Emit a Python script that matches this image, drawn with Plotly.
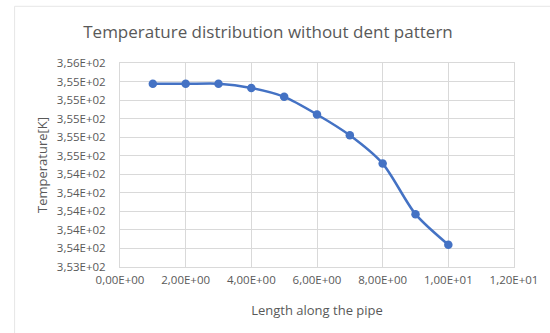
import plotly.graph_objects as go

# Data
length = [1, 2, 3, 4, 5, 6, 7, 8, 9, 10]
temperature = [355.375, 355.375, 355.377, 355.33, 355.235, 355.045, 354.82, 354.515, 353.97, 353.64]

x_tickvals = [0, 2, 4, 6, 8, 10, 12]
x_ticktext = ["0,00E+00", "2,00E+00", "4,00E+00", "6,00E+00", "8,00E+00", "1,00E+01", "1,20E+01"]
y_tickvals = [353.4, 353.6, 353.8, 354.0, 354.2, 354.4, 354.6, 354.8, 355.0, 355.2, 355.4, 355.6]
y_ticktext = ["3,53E+02", "3,54E+02", "3,54E+02", "3,54E+02", "3,54E+02", "3,54E+02",
              "3,55E+02", "3,55E+02", "3,55E+02", "3,55E+02", "3,55E+02", "3,56E+02"]

title_text = "Temperature distribution without dent pattern"
x_title = "Length along the pipe"
y_title = "Temperature[K]"

FONT = "Open Sans"
TXT = "#595959"
GRID = "#d9d9d9"
BLUE = "#4472C4"

fig = go.Figure()
fig.add_trace(go.Scatter(
    x=length, y=temperature, mode="lines+markers",
    line=dict(color=BLUE, width=2.5, shape="spline", smoothing=0.8),
    marker=dict(color=BLUE, size=8.5),
    showlegend=False,
))

fig.update_layout(
    width=550, height=333,
    margin=dict(l=120, r=30, t=63, b=66),
    paper_bgcolor="white", plot_bgcolor="white",
    font=dict(family=FONT, color=TXT),
    title=dict(text=title_text, x=268 / 550, xanchor="center",
               y=1 - 32 / 333, yanchor="middle",
               font=dict(family=FONT, size=17, color=TXT)),
    xaxis=dict(
        range=[0, 12], tickvals=x_tickvals, ticktext=x_ticktext,
        showgrid=True, gridcolor=GRID, gridwidth=1, zeroline=False,
        showline=True, mirror=True, linecolor=GRID, linewidth=1,
        ticks="", tickfont=dict(family=FONT, size=11.5, color=TXT),
        ticklabelstandoff=2,
        title=dict(text=x_title, font=dict(family=FONT, size=13, color=TXT), standoff=20),
    ),
    yaxis=dict(
        range=[353.4, 355.6], tickvals=y_tickvals, ticktext=y_ticktext,
        showgrid=True, gridcolor=GRID, gridwidth=1, zeroline=False,
        showline=True, mirror=True, linecolor=GRID, linewidth=1,
        ticks="", tickfont=dict(family=FONT, size=11.5, color=TXT),
        ticklabelstandoff=11,
        title=dict(text=y_title, font=dict(family=FONT, size=13, color=TXT), standoff=6),
    ),
    shapes=[dict(type="rect", xref="paper", yref="paper",
                 x0=(13 - 120) / 400, x1=(560 - 120) / 400,
                 y0=(266.7 - 345) / 204, y1=(266.7 - 6) / 204,
                 line=dict(color="#e6e6e6", width=1), fillcolor="rgba(0,0,0,0)",
                 layer="below")],
)

fig.write_html("out.html")
